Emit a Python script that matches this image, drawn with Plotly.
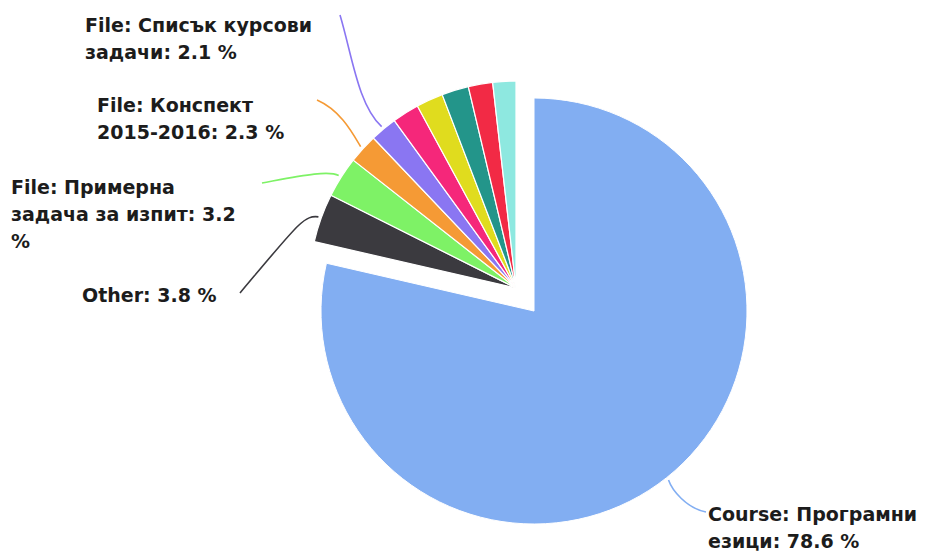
import math
import plotly.graph_objects as go

# Share of visits per course resource
labels = [
    "Course: Програмни езици",
    "Other",
    "File: Примерна задача за изпит",
    "File: Конспект 2015-2016",
    "File: Списък курсови задачи",
    "File 6",
    "File 7",
    "File 8",
    "File 9",
    "File 10",
]
values = [78.6, 3.8, 3.2, 2.3, 2.1, 2.1, 2.1, 2.1, 1.9, 1.8]
colors = [
    "#82aef2", "#3b3a3f", "#7ef266", "#f59a35", "#8a76f2",
    "#f5277a", "#e0dc1e", "#23958a", "#f22a45", "#8ee8e0",
]

# Slices that carry a data label, with the number of words on each wrapped line
# (the last line takes whatever words remain)
labelled = {0: [2], 1: [], 2: [2, 4], 3: [2], 4: [3]}

W, H = 947, 551
TRANSPARENT = "rgba(0,0,0,0)"
LINE_PITCH = 27

# The main slice is sliced out from the rest of the pie
MAIN_CENTER, MAIN_R = (534, 311), 213
REST_CENTER, REST_R = (516, 288), 207


def px(x):
    return x / W


def py(y):
    return 1 - y / H


def domain(center, r):
    cx, cy = center
    return dict(x=[px(cx - r), px(cx + r)], y=[py(cy + r), py(cy - r)])


total = sum(values)
mid_angle = []
acc = 0.0
for v in values:
    mid_angle.append(2 * math.pi * (acc + v / 2) / total)
    acc += v


def edge_point(i, extra=3):
    center, r = (MAIN_CENTER, MAIN_R) if i == 0 else (REST_CENTER, REST_R)
    a = mid_angle[i]
    return (center[0] + (r + extra) * math.sin(a), center[1] - (r + extra) * math.cos(a))


fig = go.Figure()

main_colors = [colors[0]] + [TRANSPARENT] * (len(values) - 1)
rest_colors = [TRANSPARENT] + colors[1:]

fig.add_trace(go.Pie(
    labels=labels, values=values, sort=False, direction="clockwise", rotation=0,
    marker=dict(colors=main_colors, line=dict(color="white", width=[1] + [0] * 9)),
    textinfo="none", hoverinfo="label+percent", domain=domain(MAIN_CENTER, MAIN_R),
    showlegend=False,
))
fig.add_trace(go.Pie(
    labels=labels, values=values, sort=False, direction="clockwise", rotation=0,
    marker=dict(colors=rest_colors, line=dict(color="white", width=[0] + [1.2] * 9)),
    textinfo="none", hoverinfo="label+percent", domain=domain(REST_CENTER, REST_R),
    showlegend=False,
))

# Label boxes (left, top in pixels) and connector curves (start, control 1, control 2)
label_pos = {0: (706, 501), 1: (80, 282), 2: (9, 174), 3: (95, 92), 4: (83, 12)}
connectors = {
    0: ((706, 512), (686, 508), (672, 490)),
    1: ((240, 293), (298, 224), (304, 215)),
    2: ((262, 183), (300, 176), (328, 170)),
    3: ((317, 100), (340, 110), (352, 132)),
    4: ((340, 15), (352, 55), (358, 105)),
}

shapes = []
annotations = []
for i, breaks in labelled.items():
    words = f"{labels[i]}: {values[i]} %".split(" ")
    lines, k = [], 0
    for n in breaks:
        lines.append(" ".join(words[k:k + n]))
        k += n
    lines.append(" ".join(words[k:]))
    lx, ly = label_pos[i]
    for j, line in enumerate(lines):
        annotations.append(dict(
            x=px(lx), y=py(ly + j * LINE_PITCH), xref="paper", yref="paper",
            xanchor="left", yanchor="top", align="left", showarrow=False, text=line,
            font=dict(family="DejaVu Sans", size=19, color="#1c1c1c", weight="bold"),
        ))
    (sx, sy), (c1x, c1y), (c2x, c2y) = connectors[i]
    ex, ey = edge_point(i)
    path = (f"M {px(sx)} {py(sy)} C {px(c1x)} {py(c1y)}, {px(c2x)} {py(c2y)}, "
            f"{px(ex)} {py(ey)}")
    shapes.append(dict(type="path", path=path, xref="paper", yref="paper",
                       line=dict(color=colors[i], width=1.6)))

fig.update_layout(
    width=W, height=H, margin=dict(l=0, r=0, t=0, b=0),
    paper_bgcolor="white", plot_bgcolor="white",
    shapes=shapes, annotations=annotations,
)

fig.write_html("out.html")
